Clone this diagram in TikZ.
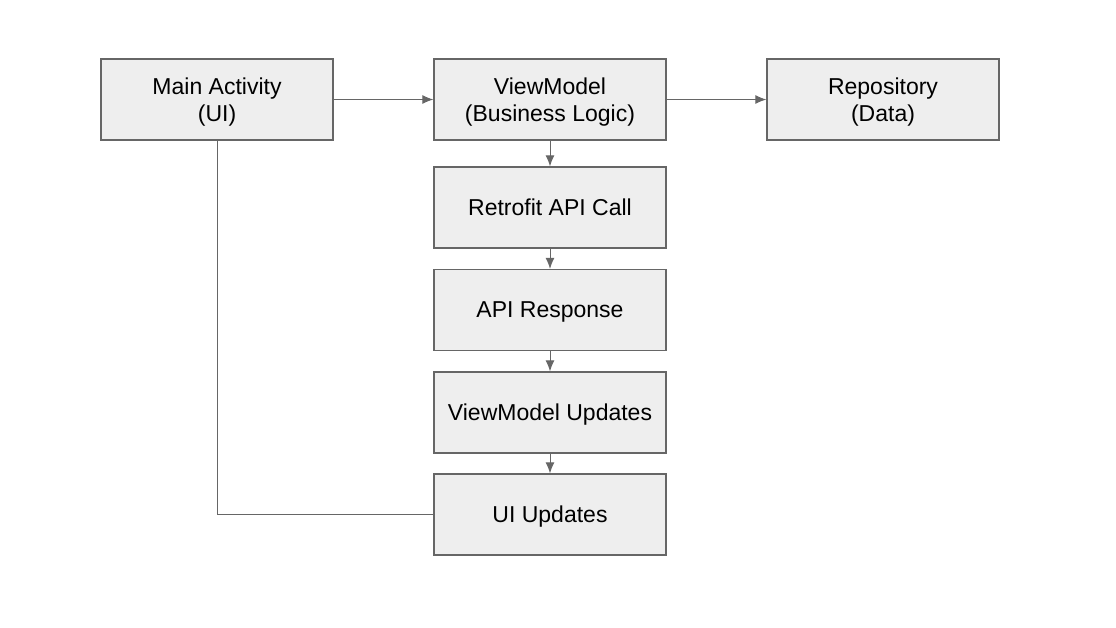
\documentclass[tikz,border=0pt]{standalone}
\usepackage{fontspec}
\setmainfont{Liberation Sans}
\usepackage{xcolor}
\usetikzlibrary{arrows.meta}
\definecolor{boxfill}{HTML}{EEEEEE}
\definecolor{boxline}{HTML}{666666}

\begin{document}
\begin{tikzpicture}[x=1pt, y=-1pt,
        block/.style={draw=boxline, line width=1.3pt, fill=boxfill, minimum width=232pt,
            minimum height=81pt, align=center, inner sep=0pt, text depth=0pt,
            font=\fontsize{23}{27}\selectfont},
        twoline/.style={block, text depth=-4pt},
        link/.style={draw=boxline, line width=1pt},
        flow/.style={link, -{Latex[length=11pt, width=9pt]}}]
        \useasboundingbox (0,0) rectangle (1116,627);
        \node[twoline] (main) at (217,99.5) {Main Activity\\(UI)};
        \node[twoline] (vm) at (550,99.5) {ViewModel\\(Business Logic)};
        \node[twoline] (repo) at (883,99.5) {Repository\\(Data)};
        \node[block] (call) at (550,207.5) {Retrofit API Call};
        \node[block] (resp) at (550,310) {API Response};
        \node[block] (vmup) at (550,412.5) {ViewModel Updates};
        \node[block] (uiup) at (550,514.5) {UI Updates};
        \draw[flow] (main) -- (vm);
        \draw[flow] (vm) -- (repo);
        \draw[flow] (vm) -- (call);
        \draw[flow] (call) -- (resp);
        \draw[flow] (resp) -- (vmup);
        \draw[flow] (vmup) -- (uiup);
        \draw[link] (main.south) |- (uiup.west);
    \end{tikzpicture}
\end{document}
